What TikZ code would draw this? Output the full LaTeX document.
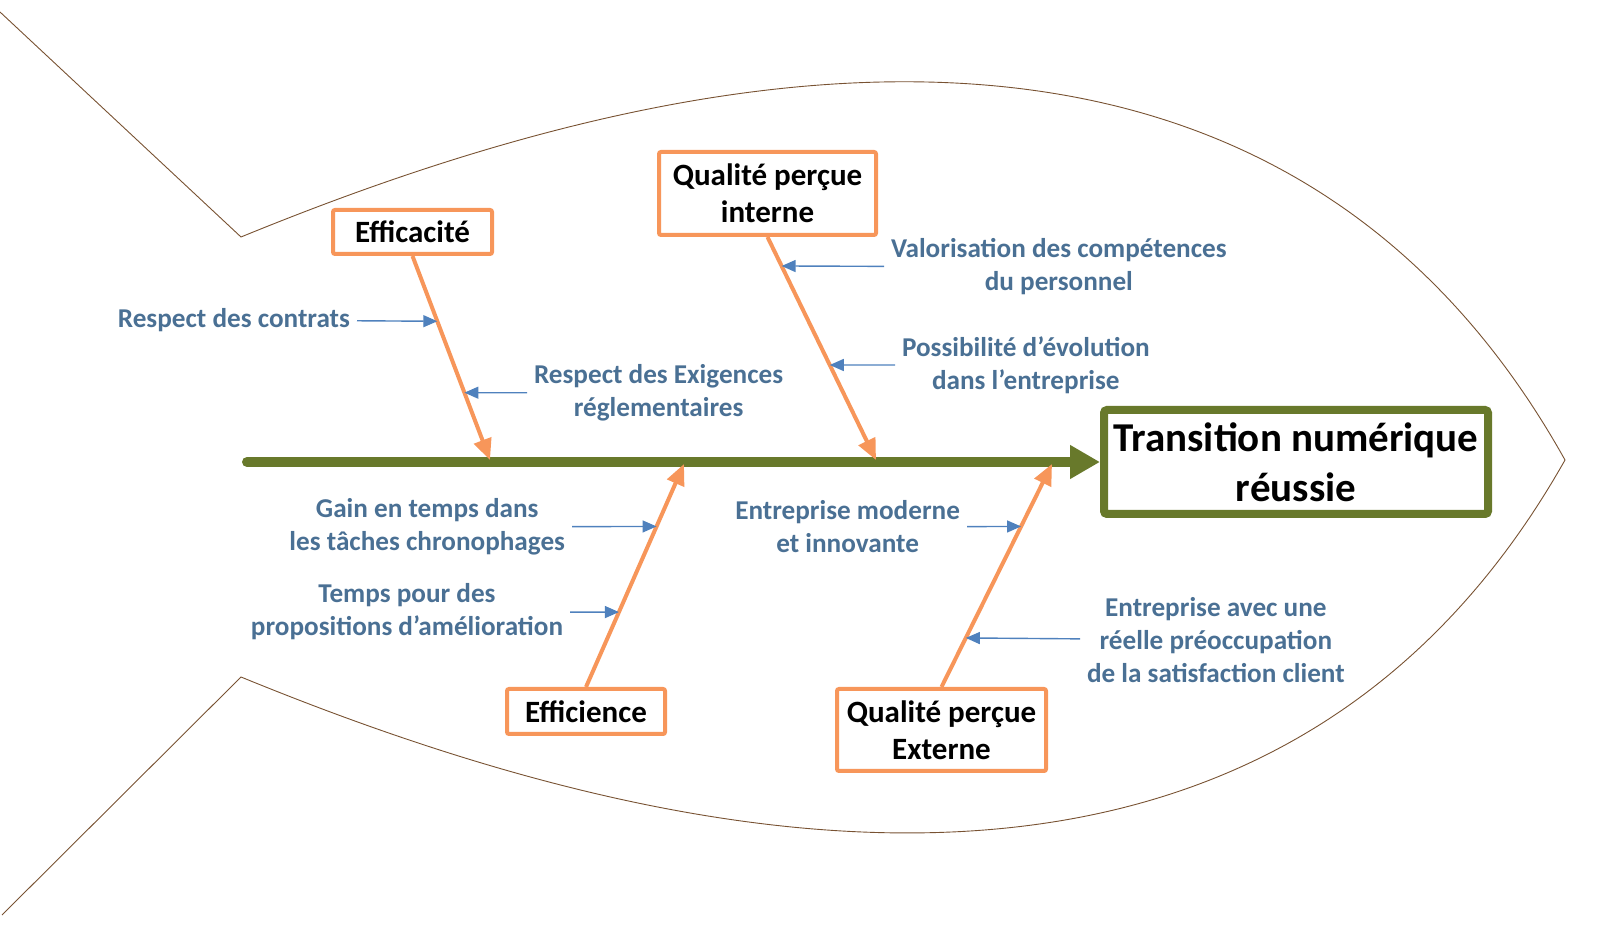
\documentclass[tikz,border=0pt]{standalone}
\usepackage{fontspec}
\setmainfont{Carlito}
\usetikzlibrary{arrows.meta,positioning,calc}
\definecolor{fishline}{RGB}{120,82,50}
\definecolor{spine}{RGB}{104,121,43}
\definecolor{bone}{RGB}{247,150,90}
\definecolor{labtext}{RGB}{74,112,148}
\definecolor{subarrow}{RGB}{79,129,189}

\begin{document}
\begin{tikzpicture}
[x=0.5pt,y=-0.5pt,
every node/.style={align=center,font=\bfseries},
cause/.style={draw=bone,line width=2pt,fill=white,rounded corners=1pt,inner sep=0pt,
  font=\fontsize{15.5}{18.5}\selectfont\bfseries},
effet/.style={draw=spine,line width=4pt,fill=white,rounded corners=1.5pt,inner sep=0pt,
  minimum width=192pt,minimum height=52pt,font=\fontsize{20.5}{25}\selectfont\bfseries},
lab/.style={text=labtext,inner sep=0pt,outer sep=3.5pt,font=\fontsize{13.6}{16.5}\selectfont\bfseries},
spineedge/.style={draw=spine,line width=5pt,line cap=round,-{Triangle[length=15pt,width=16pt]}},
boneedge/.style={draw=bone,line width=2pt,-{Triangle[length=10.5pt,width=9pt]}},
subedge/.style={draw=subarrow,line width=0.7pt,-{Triangle[length=7pt,width=6pt]}},
fish/.style={draw=fishline,line width=0.45pt}]
\useasboundingbox (0,0) rectangle (1603,935);
%%%%%%%%%%
%%%%% fish outline
\draw[fish] (0,12) -- (241,237) .. controls (600,90) and (1250,-104) .. (1565,460)
  .. controls (1250,1018) and (600,824) .. (241,677) -- (2,915);
%% head
\node (result) [effet] at (1296,462) {Transition numérique\\réussie};
%% causes
\node (eff) [cause,minimum width=79.5pt,minimum height=22pt] at (412.5,232) {Efficacité};
\node (qint) [cause,minimum width=108.5pt,minimum height=41.5pt] at (767.5,193.5) {Qualité perçue\\interne};
\node (effi) [cause,minimum width=79pt,minimum height=22.5pt] at (586,711.5) {Efficience};
\node (qext) [cause,minimum width=104.5pt,minimum height=41pt] at (941.5,730) {Qualité perçue\\Externe};
%% spine
\coordinate (tail) at (247,462);
\coordinate (s1) at (490,460);
\coordinate (s2) at (876,460);
\coordinate (s3) at (684,464);
\coordinate (s4) at (1052,464);
\draw[spineedge] (tail) -- (result.west);
%% bones
\draw[boneedge] (eff.south) -- (s1);
\draw[boneedge] (qint.south) -- (s2);
\draw[boneedge] (effi.north) -- (s3);
\draw[boneedge] (qext.north) -- (s4);
%% sub-causes
\node (t1) [lab,anchor=east] at (357,320) {Respect des contrats};
\node (t2) [lab,anchor=west] at (527,393) {Respect des Exigences\\réglementaires};
\node (t3) [lab,anchor=west] at (884,267) {Valorisation des compétences\\du personnel};
\node (t4) [lab,anchor=west] at (895,365) {Possibilité d’évolution\\dans l’entreprise};
\node (t5) [lab,anchor=east] at (572,527) {Gain en temps dans\\les tâches chronophages};
\node (t6) [lab,anchor=east] at (570,612) {Temps pour des\\propositions d’amélioration};
\node (t7) [lab,anchor=east] at (967,527) {Entreprise moderne\\et innovante};
\node (t8) [lab,anchor=west] at (1080,640) {Entreprise avec une\\réelle préoccupation\\de la satisfaction client};
\coordinate (a1) at ($(eff.south)!.32!(s1)$);
\coordinate (a2) at ($(eff.south)!.67!(s1)$);
\coordinate (a3) at ($(qint.south)!.13!(s2)$);
\coordinate (a4) at ($(qint.south)!.574!(s2)$);
\coordinate (a5) at ($(effi.north)!.72!(s3)$);
\coordinate (a6) at ($(effi.north)!.336!(s3)$);
\coordinate (a7) at ($(qext.north)!.72!(s4)$);
\coordinate (a8) at ($(qext.north)!.22!(s4)$);
\draw[subedge] (t1) -- (a1);
\draw[subedge] (t2) -- (a2);
\draw[subedge] (t3) -- (a3);
\draw[subedge] (t4) -- (a4);
\draw[subedge] (t5) -- (a5);
\draw[subedge] (t6) -- (a6);
\draw[subedge] (t7) -- (a7);
\draw[subedge] (t8) -- (a8);
\end{tikzpicture}
\end{document}
